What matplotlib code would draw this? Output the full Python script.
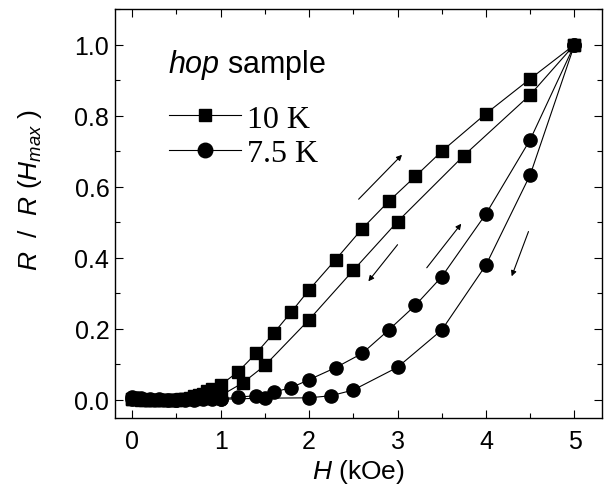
import matplotlib
matplotlib.use('Agg')
import matplotlib.pyplot as plt
from matplotlib.ticker import MultipleLocator

plt.rcParams['font.family'] = 'Liberation Sans'
plt.rcParams['mathtext.fontset'] = 'custom'
plt.rcParams['mathtext.rm'] = 'Liberation Sans'
plt.rcParams['mathtext.it'] = 'Liberation Sans:italic'

# 10 K, field increasing
h_10k_up = [0.0, 0.05, 0.1, 0.15, 0.2, 0.25, 0.3, 0.35, 0.4, 0.45, 0.5, 0.55, 0.6, 0.65, 0.7,
            0.75, 0.8, 0.85, 0.9, 1.0, 1.2, 1.4, 1.6, 1.8, 2.0, 2.3, 2.6, 2.9, 3.2, 3.5, 4.0, 4.5, 5.0]
r_10k_up = [0.004, 0.003, 0.002, 0.001, 0.0, 0.0, 0.0, 0.0, 0.0, 0.0, 0.001, 0.002, 0.004, 0.006, 0.01,
            0.014, 0.018, 0.024, 0.03, 0.042, 0.08, 0.131, 0.188, 0.248, 0.31, 0.395, 0.482, 0.559, 0.629, 0.70, 0.806, 0.904, 1.0]
# 10 K, field decreasing
h_10k_down = [5.0, 4.5, 3.75, 3.0, 2.5, 2.0, 1.5, 1.25, 1.0, 0.9, 0.8, 0.7, 0.6, 0.5, 0.4, 0.3, 0.2, 0.1, 0.0]
r_10k_down = [1.0, 0.859, 0.688, 0.502, 0.365, 0.226, 0.097, 0.048, 0.012, 0.008, 0.005, 0.003, 0.002, 0.001, 0.0, 0.0, 0.0, 0.001, 0.002]

# 7.5 K, field increasing
h_75k_up = [0.0, 0.05, 0.1, 0.2, 0.3, 0.4, 0.5, 0.6, 0.7, 0.8, 0.9, 1.0, 1.2, 1.4, 1.6, 1.8, 2.0,
            2.3, 2.6, 2.9, 3.2, 3.5, 4.0, 4.5, 5.0]
r_75k_up = [0.008, 0.006, 0.005, 0.003, 0.002, 0.001, 0.0, 0.0, 0.001, 0.002, 0.002, 0.003, 0.008, 0.012, 0.022, 0.035, 0.057,
            0.091, 0.131, 0.197, 0.266, 0.347, 0.524, 0.733, 1.0]
# 7.5 K, field decreasing
h_75k_down = [5.0, 4.5, 4.0, 3.5, 3.0, 2.5, 2.25, 2.0, 1.5, 1.0, 0.5, 0.0]
r_75k_down = [1.0, 0.634, 0.38, 0.197, 0.092, 0.028, 0.012, 0.006, 0.005, 0.002, 0.0, 0.002]

fig = plt.figure(figsize=(6.08, 4.89), dpi=100)
ax = fig.add_axes([0.189, 0.143, 0.801, 0.837])

line_kw = dict(color='k', lw=0.8)
ax.plot(h_10k_up, r_10k_up, marker='s', ms=8.5, **line_kw, label='10 K')
ax.plot(h_10k_down, r_10k_down, marker='s', ms=8.5, **line_kw)
ax.plot(h_75k_up, r_75k_up, marker='o', ms=9.5, **line_kw, label='7.5 K')
ax.plot(h_75k_down, r_75k_down, marker='o', ms=9.5, **line_kw)

# direction arrows
arrow_kw = dict(arrowstyle='-|>', color='k', lw=0.8, mutation_scale=8, shrinkA=0, shrinkB=0)
ax.annotate('', xy=(3.05, 0.69), xytext=(2.56, 0.565), arrowprops=arrow_kw)
ax.annotate('', xy=(2.67, 0.334), xytext=(3.0, 0.437), arrowprops=arrow_kw)
ax.annotate('', xy=(3.72, 0.496), xytext=(3.33, 0.372), arrowprops=arrow_kw)
ax.annotate('', xy=(4.29, 0.348), xytext=(4.48, 0.474), arrowprops=arrow_kw)

ax.set_xlim(-0.195, 5.31)
ax.set_ylim(-0.051, 1.101)
ax.xaxis.set_major_locator(MultipleLocator(1))
ax.xaxis.set_minor_locator(MultipleLocator(0.5))
ax.yaxis.set_major_locator(MultipleLocator(0.2))
ax.yaxis.set_minor_locator(MultipleLocator(0.1))
ax.yaxis.set_major_formatter(plt.FormatStrFormatter('%.1f'))
ax.tick_params(which='both', direction='in', top=True, right=True, width=0.8)
ax.tick_params(which='major', length=6, labelsize=18)
ax.tick_params(which='minor', length=3.5)
ax.tick_params(axis='x', pad=8)
ax.tick_params(axis='y', pad=4)
for s in ax.spines.values():
    s.set_linewidth(1.0)

ax.set_xlabel(r'$H$ (kOe)', fontsize=19, labelpad=3)
ax.set_ylabel(r'$R$  /  $R$ ($H_{max}$ )', fontsize=19)
ax.yaxis.set_label_coords(-0.145, 0.56)

ax.text(0.109, 0.866, r'$hop$ sample', transform=ax.transAxes, fontsize=22, va='center', ha='left')
ax.legend(loc='center left', bbox_to_anchor=(0.111, 0.689), frameon=False,
          prop={'family': 'Liberation Serif', 'size': 23}, handlelength=2.25, markerscale=1.1,
          handletextpad=0.2, labelspacing=0.15, borderaxespad=0, borderpad=0)

fig.savefig('out.png', dpi=100)
